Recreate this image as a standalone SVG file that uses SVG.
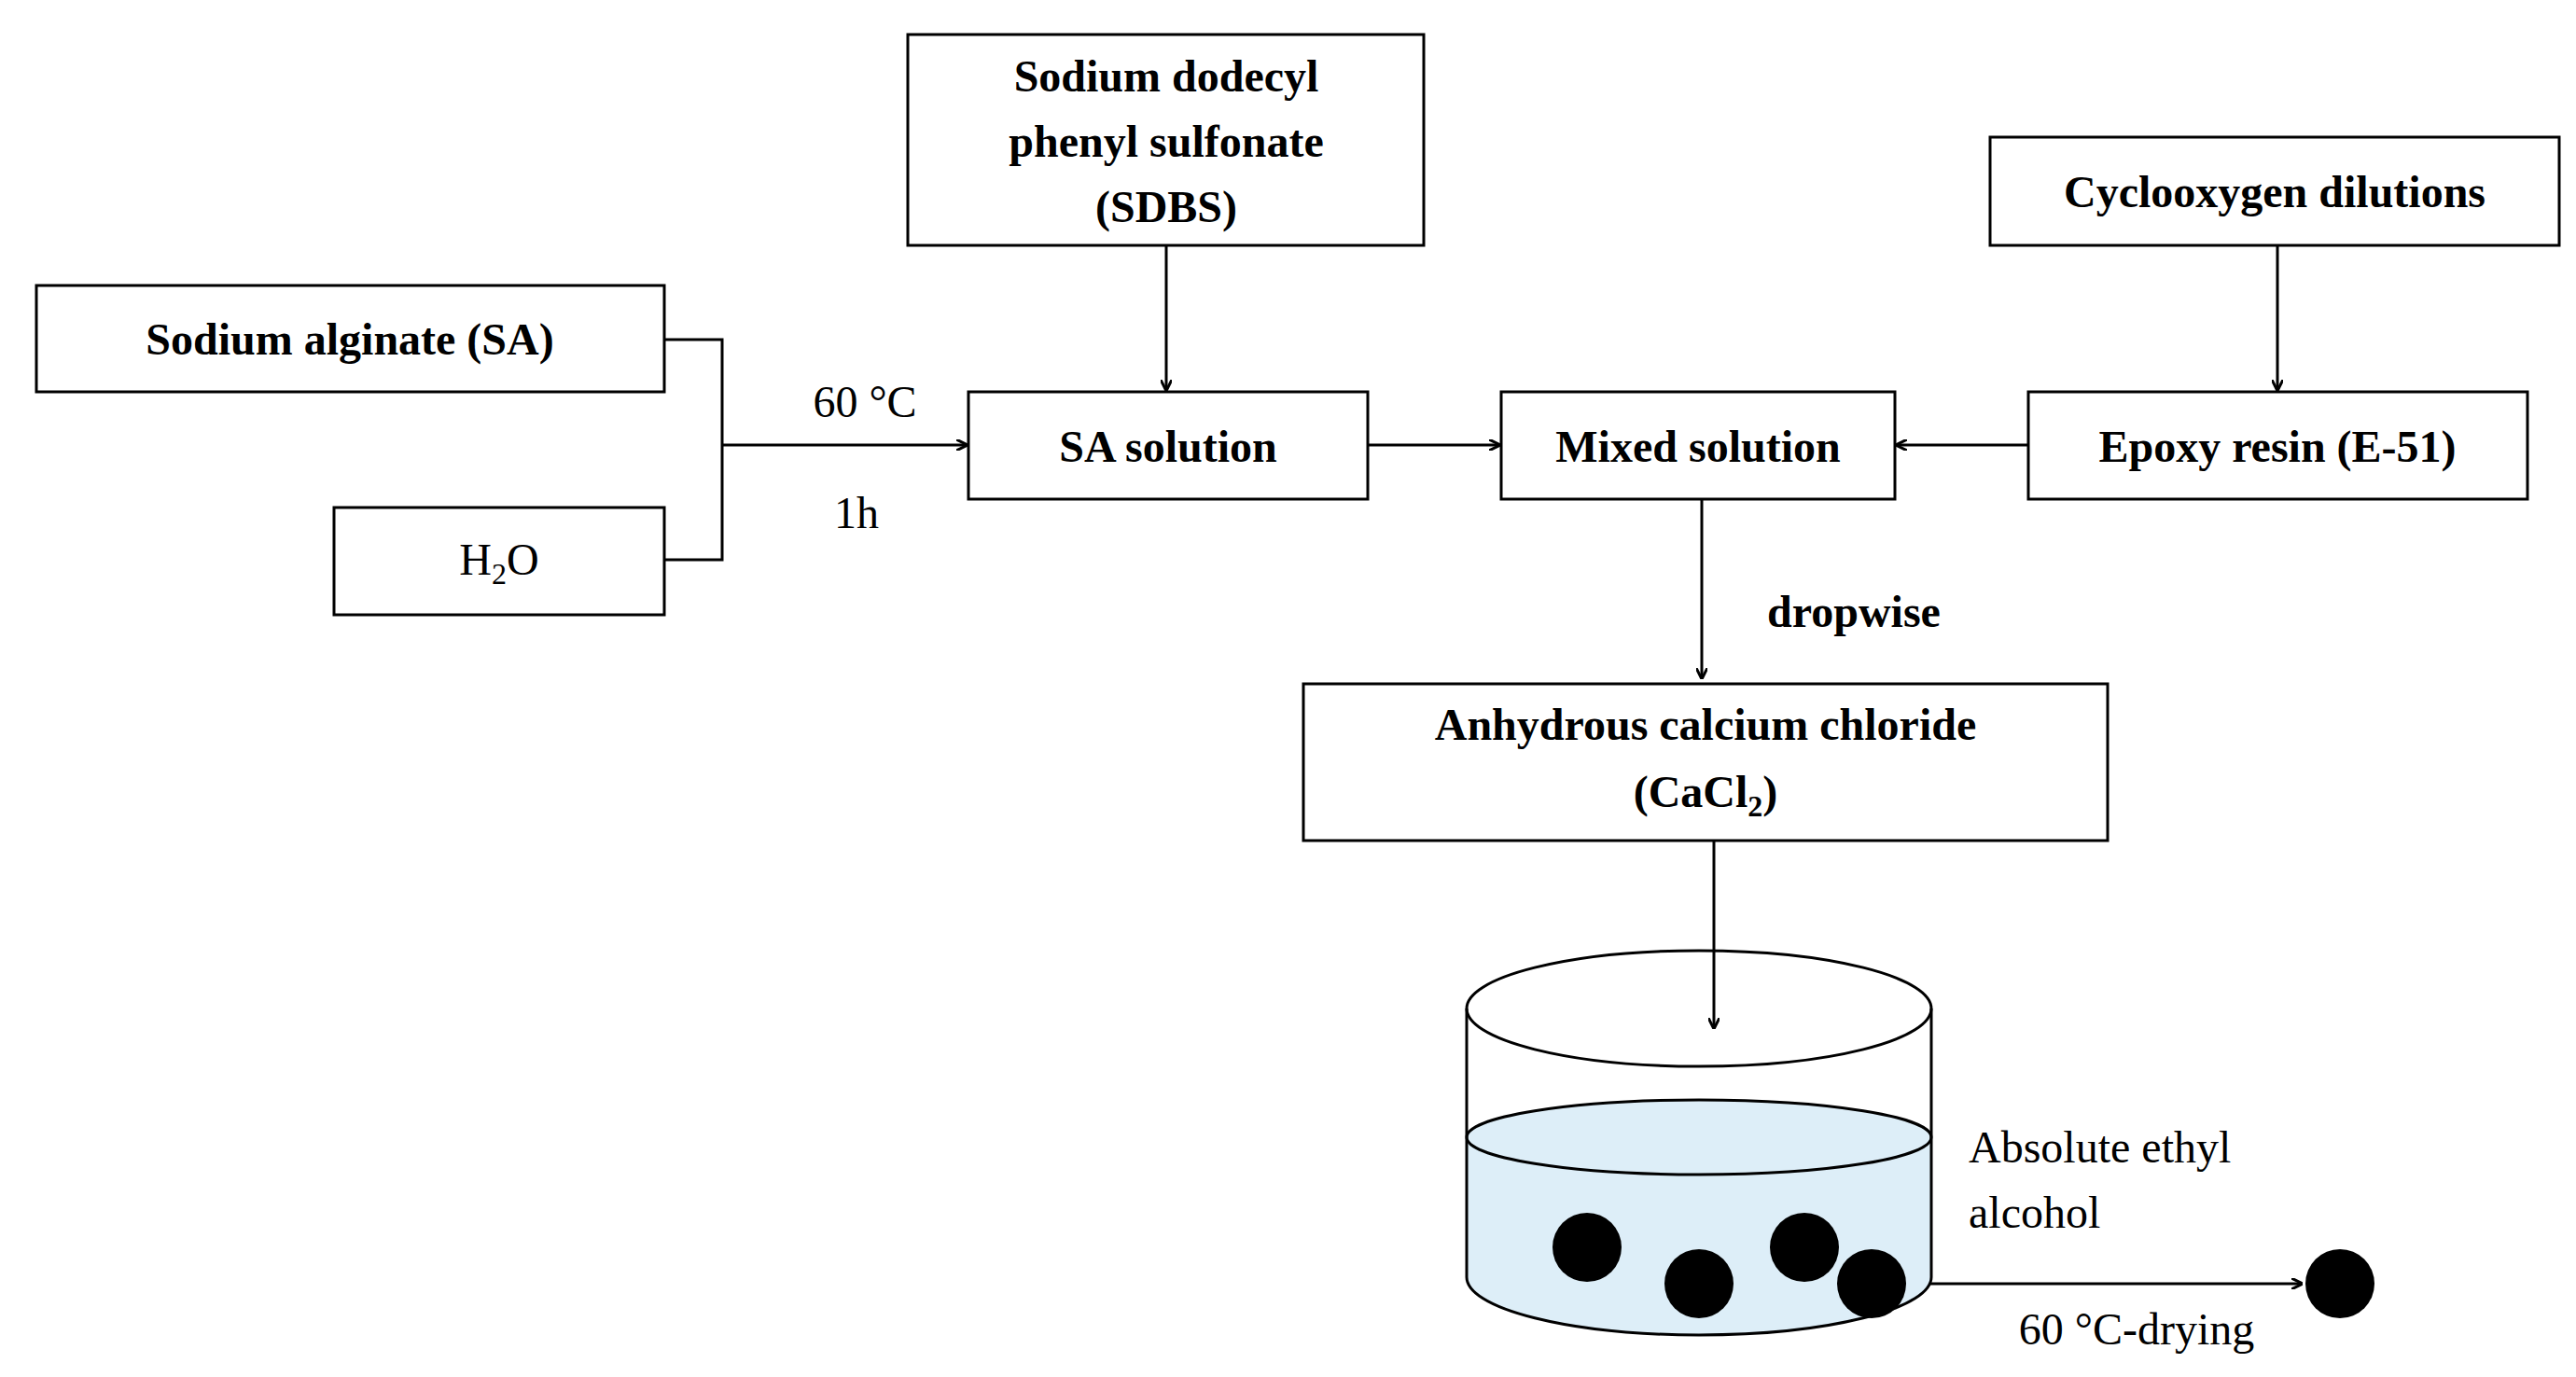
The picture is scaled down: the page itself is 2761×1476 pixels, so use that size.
<svg xmlns="http://www.w3.org/2000/svg" width="2761" height="1476" viewBox="0 0 2761 1476">
<style>
.b{fill:#fff;stroke:#000;stroke-width:3}
.t{font-family:"Liberation Serif",serif;font-weight:bold;font-size:48px;text-anchor:middle}
.n{font-family:"Liberation Serif",serif;font-size:48px}
.c{stroke:#000;stroke-width:3;fill:none}
</style>
<defs><marker id="a" markerWidth="12" markerHeight="12" refX="11" refY="6" orient="auto" markerUnits="userSpaceOnUse"><path d="M0,0 L12,6 L0,12" fill="none" stroke="#000" stroke-width="3"/></marker></defs>
<rect width="2761" height="1476" fill="#fff"/>
<g id="sa"><rect class="b" x="39" y="306" width="673" height="114"/><text class="t" x="375" y="380">Sodium alginate (SA)</text></g>
<g id="h2o"><rect class="b" x="358" y="544" width="354" height="115"/><text class="n" x="535" y="616" text-anchor="middle">H<tspan font-size="32" dy="10">2</tspan><tspan dy="-10">O</tspan></text></g>
<g id="sdbs"><rect class="b" x="973" y="37" width="553" height="226"/><text class="t" x="1250" y="98">Sodium dodecyl</text><text class="t" x="1250" y="168">phenyl sulfonate</text><text class="t" x="1250" y="238">(SDBS)</text></g>
<g id="sasol"><rect class="b" x="1038" y="420" width="428" height="115"/><text class="t" x="1252" y="495">SA solution</text></g>
<g id="mixed"><rect class="b" x="1609" y="420" width="422" height="115"/><text class="t" x="1820" y="495">Mixed solution</text></g>
<g id="cyclo"><rect class="b" x="2133" y="147" width="610" height="116"/><text class="t" x="2438" y="222">Cyclooxygen dilutions</text></g>
<g id="epoxy"><rect class="b" x="2174" y="420" width="535" height="115"/><text class="t" x="2441" y="495">Epoxy resin (E-51)</text></g>
<g id="cacl2"><rect class="b" x="1397" y="733" width="862" height="168"/><text class="t" x="1828" y="793">Anhydrous calcium chloride</text><text class="t" x="1828" y="865">(CaCl<tspan font-size="32" dy="10">2</tspan><tspan dy="-10">)</tspan></text></g>
<g id="connectors">
<path class="c" d="M712,364 H774 V600 H712 M774,477 H1036" marker-end="url(#a)"/>
<path class="c" d="M1250,263 V418" marker-end="url(#a)"/>
<path class="c" d="M1466,477 H1607" marker-end="url(#a)"/>
<path class="c" d="M2174,477 H2033" marker-end="url(#a)"/>
<path class="c" d="M2441,263 V418" marker-end="url(#a)"/>
<path class="c" d="M1824,535 V727" marker-end="url(#a)"/>
<path class="c" d="M1837,901 V1102" marker-end="url(#a)"/>
<path class="c" d="M2031,1376 H2467" marker-end="url(#a)"/>
<text class="n" x="927" y="447" text-anchor="middle">60 °C</text>
<text class="n" x="918" y="566" text-anchor="middle">1h</text>
<text class="t" x="1987" y="672">dropwise</text>
</g>
<g id="beaker">
<path d="M1572,1219 A249,40 0 0 1 2070,1219 V1369 A249,62 0 0 1 1572,1369 Z" fill="#ddeef8"/>
<ellipse class="c" cx="1821" cy="1219" rx="249" ry="40"/>
<ellipse class="c" cx="1821" cy="1081" rx="249" ry="62"/>
<path class="c" d="M1572,1081 V1369 A249,62 0 0 0 2070,1369 V1081"/>
<circle cx="1701" cy="1337" r="37"/><circle cx="1821" cy="1376" r="37"/><circle cx="1934" cy="1337" r="37"/><circle cx="2006" cy="1376" r="37"/>
<circle cx="2508" cy="1376" r="37"/>
<text class="n" x="2110" y="1246">Absolute ethyl</text>
<text class="n" x="2110" y="1316">alcohol</text>
<text class="n" x="2290" y="1441" text-anchor="middle">60 °C-drying</text>
</g>
</svg>
